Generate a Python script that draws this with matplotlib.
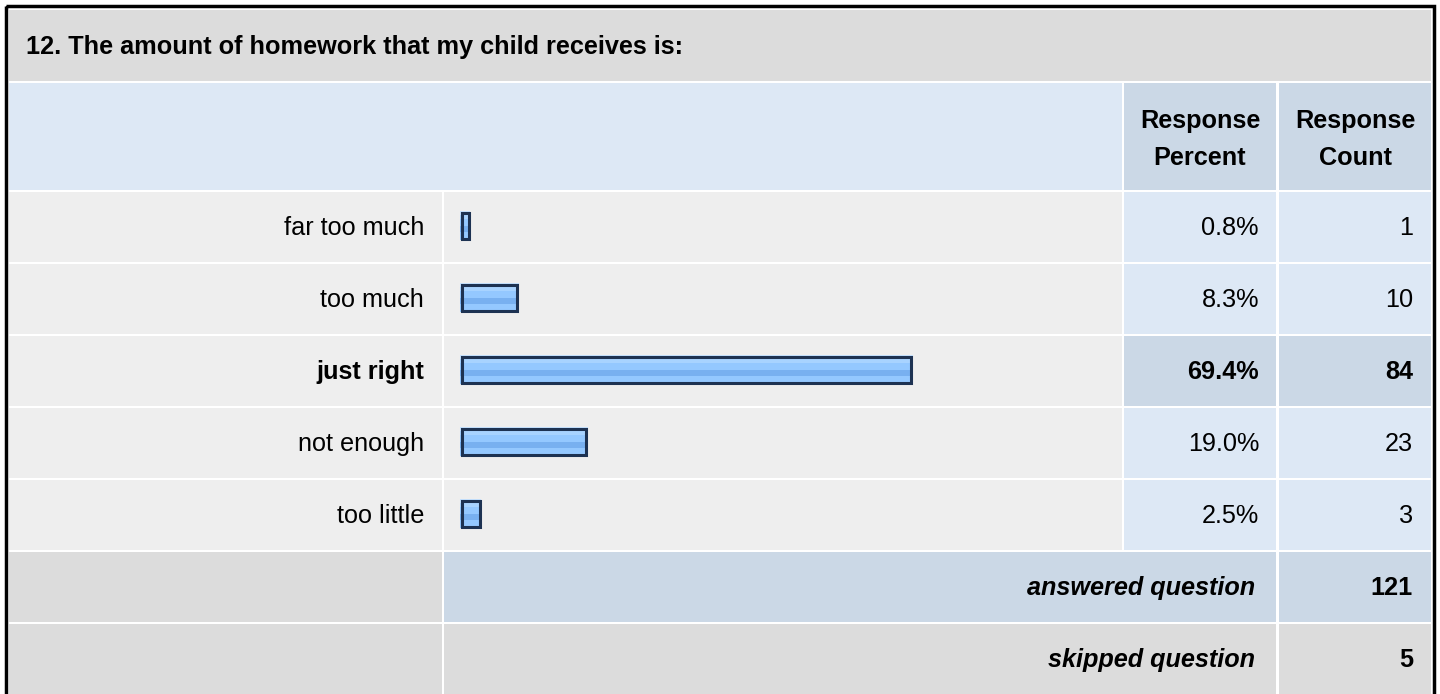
import matplotlib
matplotlib.use("Agg")
import matplotlib.pyplot as plt
from matplotlib.patches import Rectangle

title = "12. The amount of homework that my child receives is:"
categories = ["far too much", "too much", "just right", "not enough", "too little"]
percents = [0.8, 8.3, 69.4, 19.0, 2.5]
counts = [1, 10, 84, 23, 3]
answered = 121
skipped = 5

plt.rcParams["font.family"] = ["Liberation Sans", "DejaVu Sans"]
FS = 18.2

fig = plt.figure(figsize=(14.4, 6.94), dpi=100)
ax = fig.add_axes([0, 0, 1, 1])
ax.set_xlim(0, 1440)
ax.set_ylim(694, 0)
ax.axis("off")

GREY = "#dcdcdc"
LIGHT = "#eeeeee"
BLUE = "#dde8f5"
BLUE2 = "#cbd8e6"

# column edges (x0, x1)
c_lab = (9, 441.5)
c_bar = (444, 1122)
c_pct = (1124, 1276)
c_cnt = (1279, 1431)


def cell(x0, x1, y0, y1, color):
    ax.add_patch(Rectangle((x0, y0), x1 - x0, y1 - y0, facecolor=color, edgecolor="none", zorder=1))


# outer frame
ax.add_patch(Rectangle((5.5, 6), 1428.5, 700, facecolor="none", edgecolor="black", linewidth=2.5, zorder=5))

# title row
cell(9, 1431, 10, 81, GREY)
ax.text(26, 47, title, fontsize=FS, fontweight="bold", va="center", ha="left", zorder=3)

# header row
cell(9, 1122, 83, 190, BLUE)
cell(*c_pct, 83, 190, BLUE2)
cell(*c_cnt, 83, 190, BLUE2)
for (x0, x1), words in [(c_pct, ("Response", "Percent")), (c_cnt, ("Response", "Count"))]:
    xc = (x0 + x1) / 2
    ax.text(xc, 121, words[0], fontsize=FS, fontweight="bold", ha="center", va="center", zorder=3)
    ax.text(xc, 158, words[1], fontsize=FS, fontweight="bold", ha="center", va="center", zorder=3)

# answer rows
row_top = 192
row_h = 70
gap = 2
best = percents.index(max(percents))
centers = []
for i, (cat, p, n) in enumerate(zip(categories, percents, counts)):
    y0 = row_top + i * (row_h + gap)
    y1 = y0 + row_h
    yc = (y0 + y1) / 2
    centers.append(yc)
    hi = i == best
    cell(*c_lab, y0, y1, LIGHT)
    cell(*c_bar, y0, y1, LIGHT)
    cell(*c_pct, y0, y1, BLUE2 if hi else BLUE)
    cell(*c_cnt, y0, y1, BLUE2 if hi else BLUE)
    w = "bold" if hi else "normal"
    ax.text(424, yc + 1, cat, fontsize=FS, fontweight=w, ha="right", va="center", zorder=3)
    ax.text(1259, yc + 1, f"{p:.1f}%", fontsize=FS, fontweight=w, ha="right", va="center", zorder=3)
    ax.text(1413, yc + 1, str(n), fontsize=FS, fontweight=w, ha="right", va="center", zorder=3)

# bars with glossy stripes
bar_left = 460
bar_h = 29
scale = 6.45
widths = [p * scale + 5 for p in percents]
bar_y = [c - 1.5 for c in centers]
ax.barh(bar_y, widths, left=bar_left, height=bar_h, color="#94c8ff", edgecolor="none", zorder=2)
stripes = [(-14.5, 4, "#c6e2ff"), (-10.5, 4, "#a8d3ff"), (0.5, 6, "#78b0f0")]
for off, h, col in stripes:
    ax.barh([y + off + h / 2 for y in bar_y], widths, left=bar_left, height=h,
            color=col, edgecolor="none", zorder=2)
ax.barh(bar_y, [w - 3 for w in widths], left=bar_left + 1.5, height=bar_h - 3,
        color="none", edgecolor="#1d3252", linewidth=2.2, zorder=4)

# summary rows
y0 = row_top + 5 * (row_h + gap)
cell(*c_lab, y0, y0 + row_h, GREY)
cell(c_bar[0], c_pct[1], y0, y0 + row_h, BLUE2)
cell(*c_cnt, y0, y0 + row_h, BLUE2)
ax.text(1255, y0 + row_h / 2 + 1, "answered question", fontsize=FS, fontweight="bold",
        style="italic", ha="right", va="center", zorder=3)
ax.text(1413, y0 + row_h / 2 + 1, str(answered), fontsize=FS, fontweight="bold",
        ha="right", va="center", zorder=3)

y0 += row_h + gap
cell(*c_lab, y0, 700, GREY)
cell(c_bar[0], c_pct[1], y0, 700, GREY)
cell(*c_cnt, y0, 700, GREY)
ax.text(1255, y0 + row_h / 2 + 1, "skipped question", fontsize=FS, fontweight="bold",
        style="italic", ha="right", va="center", zorder=3)
ax.text(1413, y0 + row_h / 2 + 1, str(skipped), fontsize=FS, fontweight="bold",
        ha="right", va="center", zorder=3)

fig.savefig("out.png", dpi=100)
